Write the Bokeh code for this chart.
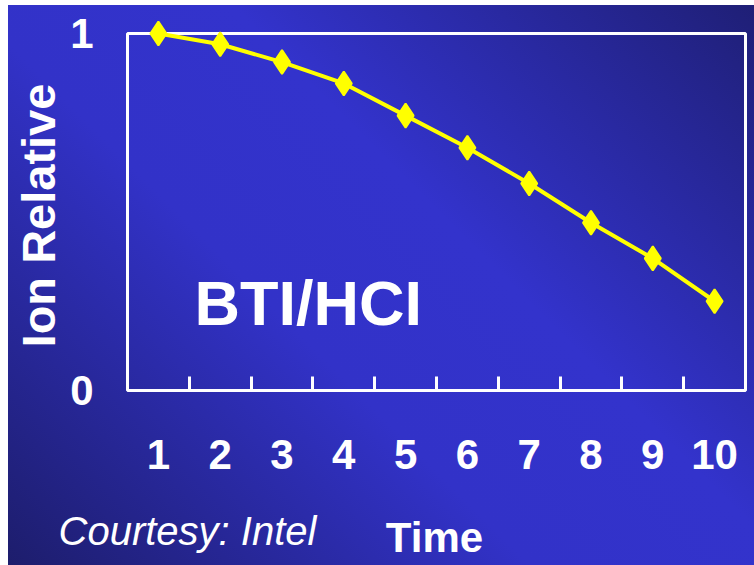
import math

from bokeh.embed import file_html
from bokeh.models import FixedTicker, Label, Range1d
from bokeh.plotting import figure
from bokeh.resources import INLINE

# Relative on-current degradation over time
time = [1, 2, 3, 4, 5, 6, 7, 8, 9, 10]
ion_relative = [1.00, 0.97, 0.92, 0.86, 0.77, 0.68, 0.58, 0.47, 0.37, 0.25]
y_ticks = [0, 1]

SANS = "Liberation Sans"
WHITE = "white"
YELLOW = "#ffff00"

W, H = 746, 560

# category boundaries (where the small inner ticks sit)
box_left = time[0] - 0.5
box_right = time[-1] + 0.5
boundaries = [t + 0.5 for t in time[:-1]]

# pixel placement of the value box inside the canvas
BOX_L, BOX_R, BOX_T, BOX_B = 119, 737, 28, 385
sx = (BOX_R - BOX_L) / (box_right - box_left)       # px per x unit
sy = (BOX_B - BOX_T) / (y_ticks[-1] - y_ticks[0])   # px per y unit


def px_x(px):
    return box_left + (px - BOX_L) / sx


def px_y(py):
    return y_ticks[0] + (BOX_B - py) / sy


p = figure(
    width=W, height=H,
    output_backend="svg", toolbar_location=None,
    x_range=Range1d(px_x(0), px_x(W)),
    y_range=Range1d(px_y(H), px_y(0)),
    min_border_left=0, min_border_right=0,
    min_border_top=0, min_border_bottom=0,
)
p.margin = (5, 0, 0, 8)
p.styles = {
    "background": "linear-gradient(45deg, #1d1d6c 0%, #3232c8 40%, #3333cc 60%, #1f1f76 100%)"
}
p.border_fill_color = None
p.background_fill_color = None
p.outline_line_color = None
p.grid.visible = False

# white box around the value range
p.quad(left=[box_left], right=[box_right], bottom=[y_ticks[0]], top=[y_ticks[-1]],
       fill_color=None, line_color=WHITE, line_width=3)

p.line(time, ion_relative, line_color=YELLOW, line_width=4)
p.scatter(time, ion_relative, marker="diamond", size=24,
          fill_color=YELLOW, line_color=YELLOW, line_width=2)

# x axis pinned to the bottom of the box: labels at the categories,
# short inner ticks between them
xa = p.xaxis[0]
xa.fixed_location = y_ticks[0]
xa.bounds = (box_left, box_right)
xa.ticker = FixedTicker(ticks=time, minor_ticks=boundaries)
xa.axis_line_color = None
xa.major_tick_in = 0
xa.major_tick_out = 0
xa.major_tick_line_color = None
xa.minor_tick_in = 14
xa.minor_tick_out = 0
xa.minor_tick_line_color = WHITE
xa.minor_tick_line_width = 3
xa.major_label_standoff = 49
xa.major_label_text_font = SANS
xa.major_label_text_font_style = "bold"
xa.major_label_text_font_size = "42px"
xa.major_label_text_color = WHITE

# y axis pinned to the left of the box: only 0 and 1
ya = p.yaxis[0]
ya.fixed_location = box_left
ya.bounds = (y_ticks[0], y_ticks[-1])
ya.ticker = FixedTicker(ticks=y_ticks, minor_ticks=[])
ya.axis_line_color = None
ya.major_tick_in = 0
ya.major_tick_out = 0
ya.major_tick_line_color = None
ya.minor_tick_line_color = None
ya.major_label_standoff = 34
ya.major_label_text_font = SANS
ya.major_label_text_font_style = "bold"
ya.major_label_text_font_size = "42px"
ya.major_label_text_color = WHITE

p.add_layout(Label(
    x=px_x(30), y=px_y(210), text="Ion Relative", angle=math.pi / 2,
    text_align="center", text_baseline="middle",
    text_font=SANS, text_font_style="bold", text_font_size="47px",
    text_color=WHITE,
))

p.add_layout(Label(
    x=px_x(426), y=px_y(532), text="Time",
    text_align="center", text_baseline="middle",
    text_font=SANS, text_font_style="bold", text_font_size="42px",
    text_color=WHITE,
))

p.add_layout(Label(
    x=px_x(186), y=px_y(297), text="BTI/HCI",
    text_align="left", text_baseline="middle",
    text_font=SANS, text_font_style="bold", text_font_size="63px",
    text_color=WHITE,
))

p.add_layout(Label(
    x=px_x(50), y=px_y(525), text="Courtesy: Intel",
    text_align="left", text_baseline="middle",
    text_font=SANS, text_font_style="italic", text_font_size="40px",
    text_color=WHITE,
))

with open("out.html", "w") as f:
    f.write(file_html(p, INLINE))
